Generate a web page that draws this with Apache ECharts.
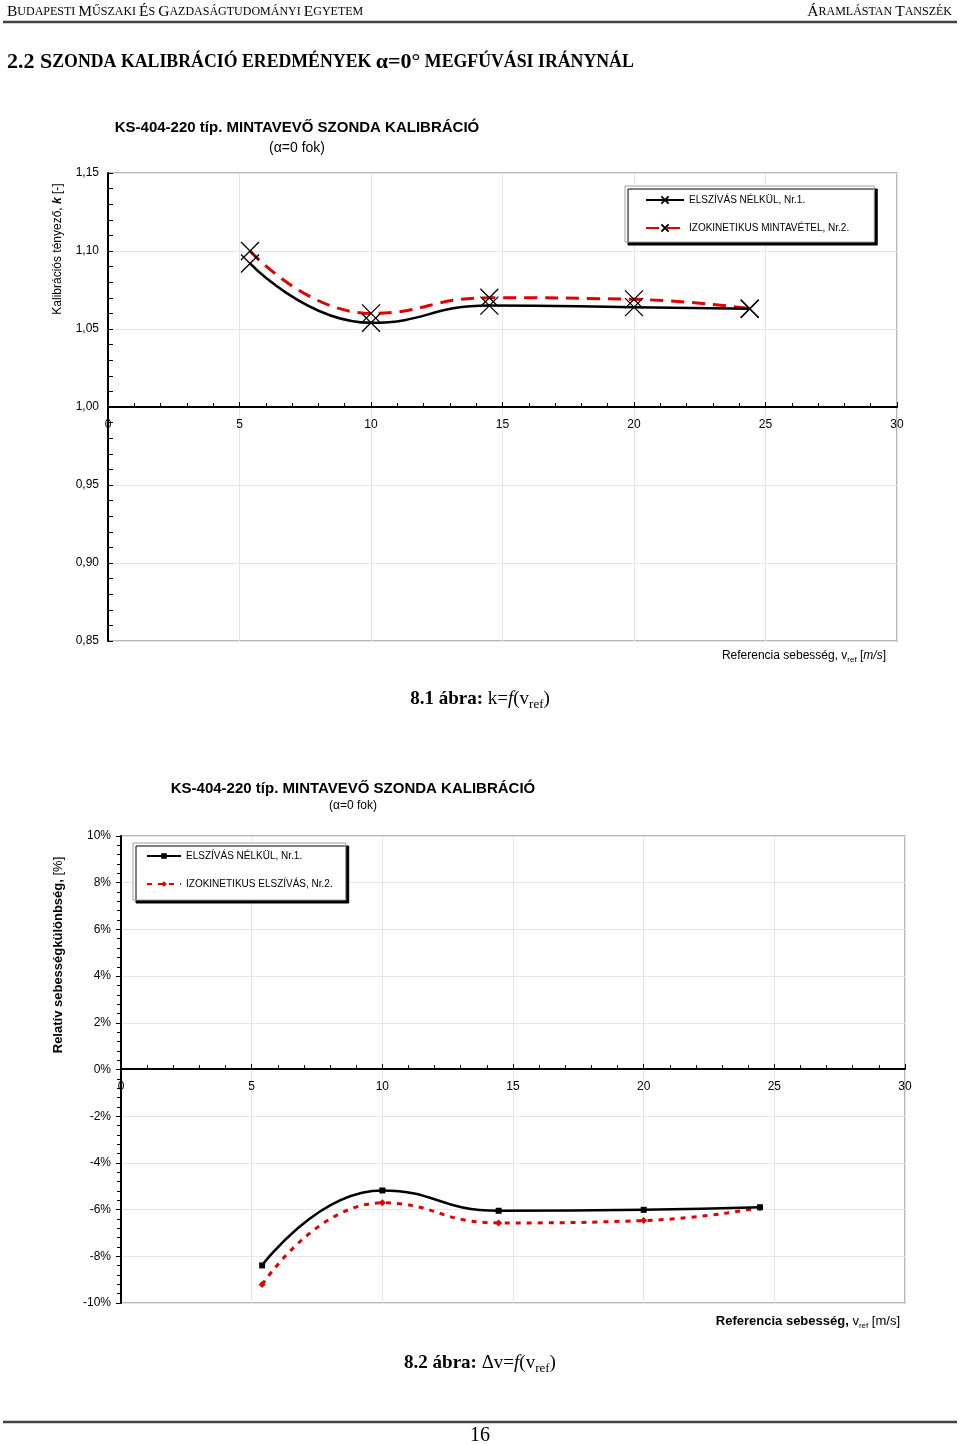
<!DOCTYPE html>
<html><head><meta charset="utf-8">
<script src="https://cdn.jsdelivr.net/npm/echarts@6/dist/echarts.min.js"></script>
<style>html,body{margin:0;padding:0;background:#fff}#c{width:960px;height:1444px}</style>
</head><body><div id="c"></div>
<script>
// ---- data ----
const xCal = [5.4, 10.0, 14.5, 20.0, 24.4];
const kNoSuction = [1.092, 1.054, 1.065, 1.064, 1.063];
const kIsokinetic = [1.100, 1.060, 1.070, 1.069, 1.063];
const xDiff = [5.4, 10.0, 14.45, 20.0, 24.45];
const dvNoSuction = [-8.39, -5.18, -6.05, -6.01, -5.90];
const dvIsokinetic = [-9.21, -5.71, -6.57, -6.47, -5.92];
const xTicks = [0, 5, 10, 15, 20, 25, 30];
const kTicks = [0.85, 0.90, 0.95, 1.00, 1.05, 1.10, 1.15];
const dvTicks = [-10, -8, -6, -4, -2, 0, 2, 4, 6, 8, 10];
const name1a = 'ELSZÍVÁS NÉLKÜL, Nr.1.';
const name1b = 'IZOKINETIKUS MINTAVÉTEL, Nr.2.';
const name2a = 'ELSZÍVÁS NÉLKÜL, Nr.1.\u200b';
const name2b = 'IZOKINETIKUS ELSZÍVÁS, Nr.2.';

const SANS = '"Liberation Sans", Arial, sans-serif';
const SERIF = '"Liberation Serif", "Times New Roman", serif';
const zip = (a, b) => a.map((v, i) => [v, b[i]]);
const XSYM = 'path://M0,0L10,10M10,0L0,10';
const RED = '#e00000';

const chart = echarts.init(document.getElementById('c'), null, {renderer: 'canvas'});

function step(arr) { return arr[1] - arr[0]; }

const gridLine = {show: true, lineStyle: {color: '#e6e6e6', width: 1}};
const axisLbl = {color: '#000', fontSize: 12, fontFamily: SANS};

const legendBase = {
  orient: 'vertical', backgroundColor: '#fff', borderColor: '#a0a0a0', borderWidth: 1,
  shadowColor: '#000', shadowBlur: 0, shadowOffsetX: 3, shadowOffsetY: 3,
  itemGap: 18, borderRadius: 0,
  textStyle: {color: '#000', fontSize: 10, fontFamily: SANS}
};

const option = {
  animation: false,
  backgroundColor: '#fff',
  grid: [
    {left: 108, top: 173, width: 789, height: 468, show: true, borderColor: '#a0a0a0', borderWidth: 1.5},
    {left: 121, top: 836, width: 784, height: 467, show: true, borderColor: '#a0a0a0', borderWidth: 1.5}
  ],
  legend: [
    Object.assign({}, legendBase, {left: 625, top: 186, padding: [9, 25, 9, 20], itemWidth: 38, itemHeight: 9, data: [name1a, name1b]}),
    Object.assign({}, legendBase, {left: 133, top: 843, padding: [8, 13, 11, 13], itemWidth: 34, itemHeight: 7, data: [name2a, name2b]})
  ],
  xAxis: [
    {type: 'value', gridIndex: 0, min: xTicks[0], max: xTicks[xTicks.length - 1], interval: step(xTicks),
     position: 'bottom', offset: -234,
     axisLine: {show: true, onZero: false, lineStyle: {color: '#000', width: 2}},
     axisTick: {show: true, inside: true, length: 5, lineStyle: {color: '#000'}},
     minorTick: {show: true, splitNumber: 5, length: 4, lineStyle: {color: '#000'}},
     axisLabel: Object.assign({margin: 12}, axisLbl),
     splitLine: gridLine},
    {type: 'value', gridIndex: 1, min: xTicks[0], max: xTicks[xTicks.length - 1], interval: step(xTicks),
     position: 'bottom', offset: -234,
     axisLine: {show: true, onZero: false, lineStyle: {color: '#000', width: 2}},
     axisTick: {show: true, inside: true, length: 5, lineStyle: {color: '#000'}},
     minorTick: {show: true, splitNumber: 5, length: 4, lineStyle: {color: '#000'}},
     axisLabel: Object.assign({margin: 12}, axisLbl),
     splitLine: gridLine}
  ],
  yAxis: [
    {type: 'value', gridIndex: 0, min: kTicks[0], max: kTicks[kTicks.length - 1], interval: 0.05,
     axisLine: {show: true, onZero: false, lineStyle: {color: '#000', width: 2}},
     axisTick: {show: true, inside: true, length: 5, lineStyle: {color: '#000'}},
     minorTick: {show: true, splitNumber: 5, length: 5, lineStyle: {color: '#000'}},
     axisLabel: Object.assign({margin: 9, formatter: v => v.toFixed(2).replace('.', ',')}, axisLbl),
     splitLine: gridLine},
    {type: 'value', gridIndex: 1, min: dvTicks[0], max: dvTicks[dvTicks.length - 1], interval: step(dvTicks),
     axisLine: {show: true, onZero: false, lineStyle: {color: '#000', width: 2}},
     axisTick: {show: true, inside: false, length: 5, lineStyle: {color: '#000'}},
     minorTick: {show: true, splitNumber: 5, length: 4, lineStyle: {color: '#000'}},
     axisLabel: Object.assign({margin: 10, formatter: v => v + '%'}, axisLbl),
     splitLine: gridLine}
  ],
  series: [
    {name: name1a, type: 'line', xAxisIndex: 0, yAxisIndex: 0, data: zip(xCal, kNoSuction), smooth: 0.5,
     symbol: XSYM, symbolSize: 18, z: 3,
     itemStyle: {color: 'rgba(0,0,0,0)', borderColor: '#000', borderWidth: 1.3},
     lineStyle: {color: '#000', width: 2.5}},
    {name: name1b, type: 'line', xAxisIndex: 0, yAxisIndex: 0, data: zip(xCal, kIsokinetic), smooth: 0.5,
     symbol: XSYM, symbolSize: 18, z: 2,
     itemStyle: {color: 'rgba(0,0,0,0)', borderColor: '#000', borderWidth: 1.3},
     lineStyle: {color: RED, width: 3, type: [13, 8]}},
    {name: name2a, type: 'line', xAxisIndex: 1, yAxisIndex: 1, data: zip(xDiff, dvNoSuction), smooth: 0.5,
     symbol: 'rect', symbolSize: 6, z: 3,
     itemStyle: {color: '#000'},
     lineStyle: {color: '#000', width: 2.5}},
    {name: name2b, type: 'line', xAxisIndex: 1, yAxisIndex: 1, data: zip(xDiff, dvIsokinetic), smooth: 0.5,
     symbol: 'diamond', symbolSize: 7, z: 2,
     itemStyle: {color: RED},
     lineStyle: {color: RED, width: 3, type: [5, 6]}}
  ],
  graphic: [
    // header
    {type: 'text', x: 7, y: 12, style: {text: '{B|B}{s|UDAPESTI }{B|M}{s|ŰSZAKI }{B|É}{s|S }{B|G}{s|AZDASÁGTUDOMÁNYI }{B|E}{s|GYETEM}',
      textVerticalAlign: 'middle', rich: {B: {fontSize: 15.5, fontFamily: SERIF, fill: '#000'}, s: {fontSize: 12, fontFamily: SERIF, fill: '#000'}}}},
    {type: 'text', x: 952, y: 12, style: {text: '{B|Á}{s|RAMLÁSTAN }{B|T}{s|ANSZÉK}', textAlign: 'right',
      textVerticalAlign: 'middle', rich: {B: {fontSize: 15.5, fontFamily: SERIF, fill: '#000'}, s: {fontSize: 12, fontFamily: SERIF, fill: '#000'}}}},
    {type: 'line', shape: {x1: 3, y1: 22, x2: 957, y2: 22}, style: {stroke: '#444', lineWidth: 2.5}},
    {type: 'text', x: 7, y: 62, style: {text: '{B|2.2 S}{s|ZONDA KALIBRÁCIÓ EREDMÉNYEK }{B|α=0°}{s| MEGFÚVÁSI IRÁNYNÁL}',
      textVerticalAlign: 'middle', rich: {B: {fontSize: 22, fontWeight: 'bold', fontFamily: SERIF, fill: '#000'}, s: {fontSize: 17.8, fontWeight: 'bold', fontFamily: SERIF, fill: '#000'}}}},
    // chart 1 titles
    {type: 'text', x: 297, y: 128, style: {text: 'KS-404-220 típ. MINTAVEVŐ SZONDA KALIBRÁCIÓ', textAlign: 'center', textVerticalAlign: 'middle',
      font: 'bold 15px ' + SANS, fill: '#000'}},
    {type: 'text', x: 297, y: 148, style: {text: '(α=0 fok)', textAlign: 'center', textVerticalAlign: 'middle', font: '14px ' + SANS, fill: '#000'}},
    {type: 'text', x: 58, y: 249, rotation: Math.PI / 2, style: {text: '{n|Kalibrációs tényező, }{b|k}{n| [-]}', textAlign: 'center', textVerticalAlign: 'middle',
      rich: {n: {fontSize: 12, fontFamily: SANS, fill: '#000'}, b: {fontSize: 12, fontFamily: SANS, fontWeight: 'bold', fontStyle: 'italic', fill: '#000'}}}},
    {type: 'text', x: 886, y: 656, style: {text: '{n|Referencia sebesség, v}{sub|ref}{n| [}{i|m/s}{n|]}', textAlign: 'right', textVerticalAlign: 'middle',
      rich: {n: {fontSize: 12, fontFamily: SANS, fill: '#000', lineHeight: 16, verticalAlign: 'middle'},
             i: {fontSize: 12, fontFamily: SANS, fontStyle: 'italic', fill: '#000', lineHeight: 16},
             sub: {fontSize: 8, fontFamily: SANS, fill: '#000', lineHeight: 16, verticalAlign: 'bottom'}}}},
    {type: 'text', x: 480, y: 699, style: {text: '{b|8.1 ábra: }{n|k=}{i|f}{n|(v}{sub|ref}{n|)}', textAlign: 'center', textVerticalAlign: 'middle',
      rich: {b: {fontSize: 19, fontWeight: 'bold', fontFamily: SERIF, fill: '#000', lineHeight: 24},
             n: {fontSize: 19, fontFamily: SERIF, fill: '#000', lineHeight: 24},
             i: {fontSize: 19, fontStyle: 'italic', fontFamily: SERIF, fill: '#000', lineHeight: 24},
             sub: {fontSize: 13, fontFamily: SERIF, fill: '#000', lineHeight: 24, verticalAlign: 'bottom'}}}},
    // chart 2 titles
    {type: 'text', x: 353, y: 789, style: {text: 'KS-404-220 típ. MINTAVEVŐ SZONDA KALIBRÁCIÓ', textAlign: 'center', textVerticalAlign: 'middle',
      font: 'bold 15px ' + SANS, fill: '#000'}},
    {type: 'text', x: 353, y: 806, style: {text: '(α=0 fok)', textAlign: 'center', textVerticalAlign: 'middle', font: '12px ' + SANS, fill: '#000'}},
    {type: 'text', x: 58, y: 955, rotation: Math.PI / 2, style: {text: '{b|Relatív sebességkülönbség, }{n|[%]}', textAlign: 'center', textVerticalAlign: 'middle',
      rich: {n: {fontSize: 13, fontFamily: SANS, fill: '#000'}, b: {fontSize: 13, fontFamily: SANS, fontWeight: 'bold', fill: '#000'}}}},
    {type: 'text', x: 900, y: 1321, style: {text: '{b|Referencia sebesség, }{n|v}{sub|ref}{n| [m/s]}', textAlign: 'right', textVerticalAlign: 'middle',
      rich: {b: {fontSize: 13, fontWeight: 'bold', fontFamily: SANS, fill: '#000', lineHeight: 17},
             n: {fontSize: 13, fontFamily: SANS, fill: '#000', lineHeight: 17},
             sub: {fontSize: 8, fontFamily: SANS, fill: '#000', lineHeight: 17, verticalAlign: 'bottom'}}}},
    {type: 'text', x: 480, y: 1363, style: {text: '{b|8.2 ábra: }{n|Δv=}{i|f}{n|(v}{sub|ref}{n|)}', textAlign: 'center', textVerticalAlign: 'middle',
      rich: {b: {fontSize: 19, fontWeight: 'bold', fontFamily: SERIF, fill: '#000', lineHeight: 24},
             n: {fontSize: 19, fontFamily: SERIF, fill: '#000', lineHeight: 24},
             i: {fontSize: 19, fontStyle: 'italic', fontFamily: SERIF, fill: '#000', lineHeight: 24},
             sub: {fontSize: 13, fontFamily: SERIF, fill: '#000', lineHeight: 24, verticalAlign: 'bottom'}}}},
    // footer
    {type: 'line', shape: {x1: 3, y1: 1422, x2: 957, y2: 1422}, style: {stroke: '#444', lineWidth: 2.5}},
    {type: 'text', x: 480, y: 1436, style: {text: '16', textAlign: 'center', textVerticalAlign: 'middle', font: '20px ' + SERIF, fill: '#000'}}
  ]
};
chart.setOption(option);
</script>
</body></html>
